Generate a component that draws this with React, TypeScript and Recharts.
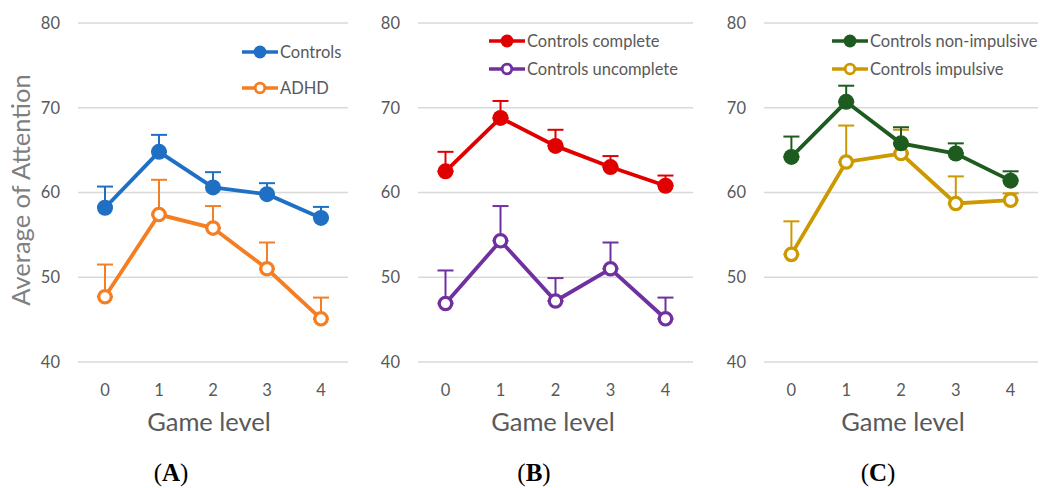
import React from 'react';
import {
  LineChart,
  Line,
  XAxis,
  YAxis,
  CartesianGrid,
  ErrorBar,
  Legend,
} from 'recharts';

// game levels on the x axis
const levels = [0, 1, 2, 3, 4];
const yTicks = [40, 50, 60, 70, 80];

// (A) controls vs ADHD
const controls = [58.2, 64.8, 60.6, 59.8, 57.0];
const controlsErr = [2.5, 2.0, 1.8, 1.3, 1.3];
const adhd = [47.7, 57.4, 55.8, 51.0, 45.1];
const adhdErr = [3.8, 4.1, 2.6, 3.1, 2.5];

// (B) complete vs uncomplete
const complete = [62.5, 68.8, 65.5, 63.0, 60.8];
const completeErr = [2.3, 2.0, 1.9, 1.3, 1.2];
const uncomplete = [46.9, 54.3, 47.2, 51.0, 45.1];
const uncompleteErr = [3.9, 4.1, 2.7, 3.1, 2.5];

// (C) non-impulsive vs impulsive
const nonImpulsive = [64.2, 70.7, 65.8, 64.6, 61.4];
const nonImpulsiveErr = [2.4, 1.9, 1.9, 1.2, 1.1];
const impulsive = [52.7, 63.6, 64.6, 58.7, 59.1];
const impulsiveErr = [3.9, 4.3, 2.8, 3.2, 0.8];

const FONT = 'Lato, "Open Sans", sans-serif';
const TEXT = '#595959';

interface SeriesDef {
  key: string;
  name: string;
  color: string;
  filled: boolean;
  values: number[];
  errors: number[];
}

interface PanelDef {
  id: string;
  left: number;
  width: number;
  yWidth: number;
  legendX: number;
  legendY: number;
  legendGap: number;
  series: SeriesDef[];
  drawOrder: string[];
}

const panels: PanelDef[] = [
  {
    id: 'A',
    left: 0,
    width: 350,
    yWidth: 78,
    legendX: 242,
    legendY: 52,
    legendGap: 36,
    series: [
      { key: 'controls', name: 'Controls', color: '#1F70C4', filled: true, values: controls, errors: controlsErr },
      { key: 'adhd', name: 'ADHD', color: '#F57E22', filled: false, values: adhd, errors: adhdErr },
    ],
    drawOrder: ['controls', 'adhd'],
  },
  {
    id: 'B',
    left: 350,
    width: 345,
    yWidth: 68,
    legendX: 139,
    legendY: 41,
    legendGap: 28,
    series: [
      { key: 'complete', name: 'Controls complete', color: '#E00000', filled: true, values: complete, errors: completeErr },
      { key: 'uncomplete', name: 'Controls uncomplete', color: '#7030A0', filled: false, values: uncomplete, errors: uncompleteErr },
    ],
    drawOrder: ['complete', 'uncomplete'],
  },
  {
    id: 'C',
    left: 690,
    width: 350,
    yWidth: 74,
    legendX: 142,
    legendY: 41,
    legendGap: 28,
    series: [
      { key: 'nonimp', name: 'Controls non-impulsive', color: '#1E5B1E', filled: true, values: nonImpulsive, errors: nonImpulsiveErr },
      { key: 'imp', name: 'Controls impulsive', color: '#CC9900', filled: false, values: impulsive, errors: impulsiveErr },
    ],
    drawOrder: ['imp', 'nonimp'],
  },
];

const buildRows = (series: SeriesDef[]) =>
  levels.map((level, i) => {
    const row: Record<string, number | number[]> = { level };
    series.forEach((s) => {
      row[s.key] = s.values[i];
      row[s.key + 'Err'] = [0, s.errors[i]];
    });
    return row;
  });

const LegendBox = ({ series, gap }: { series: SeriesDef[]; gap: number }) => (
  <svg width={200} height={gap + 20} style={{ display: 'block', overflow: 'visible' }}>
    {series.map((s, i) => {
      const cy = 10 + i * gap;
      return (
        <g key={s.key}>
          <line x1={0} x2={36} y1={cy} y2={cy} stroke={s.color} strokeWidth={3.5} />
          {s.filled ? (
            <circle cx={18} cy={cy} r={6.5} fill={s.color} />
          ) : (
            <circle cx={18} cy={cy} r={4.8} fill="#fff" stroke={s.color} strokeWidth={2.8} />
          )}
          <text x={38} y={cy} dy="0.35em" fontSize={16.5} fill={TEXT} fontFamily={FONT}>
            {s.name}
          </text>
        </g>
      );
    })}
  </svg>
);

const Panel = ({ p }: { p: PanelDef }) => {
  const rows = buildRows(p.series);
  const ordered = p.drawOrder.map((k) => p.series.find((s) => s.key === k)!);
  return (
    <div style={{ position: 'absolute', left: p.left, top: 0 }}>
      <LineChart
        width={p.width}
        height={488}
        data={rows}
        margin={{ top: 23, right: 2, bottom: 96, left: 0 }}
        style={{ fontFamily: FONT }}
      >
        <CartesianGrid vertical={false} stroke="#d9d9d9" strokeWidth={1.5} />
        <XAxis
          dataKey="level"
          type="number"
          domain={[-0.5, 4.5]}
          ticks={levels}
          height={30}
          axisLine={false}
          tickLine={false}
          tickMargin={16}
          tick={{ fill: TEXT, fontSize: 16.5, fontFamily: FONT }}
        />
        <YAxis
          domain={[40, 80]}
          ticks={yTicks}
          width={p.yWidth}
          axisLine={false}
          tickLine={false}
          tickMargin={12}
          tick={{ fill: TEXT, fontSize: 16.5, fontFamily: FONT }}
        />
        {ordered.map((s) => (
          <Line
            key={s.key}
            dataKey={s.key}
            name={s.name}
            stroke={s.color}
            strokeWidth={3.8}
            isAnimationActive={false}
            dot={
              s.filled
                ? { r: 8, fill: s.color, stroke: s.color, strokeWidth: 0 }
                : { r: 6.2, fill: '#fff', stroke: s.color, strokeWidth: 3.2 }
            }
            activeDot={false}
          >
            <ErrorBar dataKey={s.key + 'Err'} direction="y" width={8} stroke={s.color} strokeWidth={2} />
          </Line>
        ))}
        <Legend
          layout="vertical"
          align="center"
          verticalAlign="middle"
          wrapperStyle={{ left: p.legendX, top: p.legendY - 10, width: 200 }}
          content={() => <LegendBox series={p.series} gap={p.legendGap} />}
        />
      </LineChart>
    </div>
  );
};

const gameLabelX = [209, 553, 903];
const panelLabelX = [171, 534, 878];

export default function App() {
  return (
    <div style={{ position: 'absolute', left: 0, top: 0, width: 1040, height: 488, background: '#fff' }}>
      {panels.map((p) => (
        <Panel key={p.id} p={p} />
      ))}
      <svg
        width={1040}
        height={488}
        style={{ position: 'absolute', left: 0, top: 0, pointerEvents: 'none' }}
      >
        <text
          x={21}
          y={190}
          transform="rotate(-90 21 190)"
          textAnchor="middle"
          dy="0.35em"
          fontSize={25.5}
          fill="#7f7f7f"
          fontFamily={FONT}
        >
          Average of Attention
        </text>
        {panels.map((p, i) => (
          <g key={p.id}>
            <text x={gameLabelX[i]} y={431} textAnchor="middle" fontSize={25.5} fill={TEXT} fontFamily={FONT}>
              Game level
            </text>
            <text
              x={panelLabelX[i]}
              y={481}
              textAnchor="middle"
              fontSize={25}
              fill="#000"
              fontFamily='"Liberation Serif", "Times New Roman", serif'
            >
              (<tspan fontWeight="bold">{p.id}</tspan>)
            </text>
          </g>
        ))}
      </svg>
    </div>
  );
}
